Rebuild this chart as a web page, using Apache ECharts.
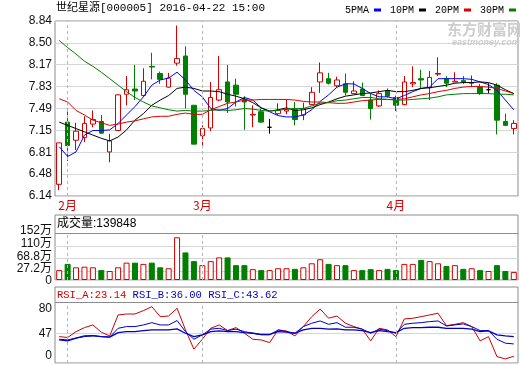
<!DOCTYPE html>
<html><head><meta charset="utf-8">
<script src="https://cdn.jsdelivr.net/npm/echarts@6.0.0/dist/echarts.min.js"></script>
<style>html,body{margin:0;padding:0;background:#fff}#c{width:520px;height:365px}</style>
</head><body><div id="c"></div>
<script>
const STOCK_NAME = '世纪星源';
const STOCK_CODE = '000005';
const TIME_STAMP = '2016-04-22 15:00';
const DATES = ['2016-01-29','2016-02-01','2016-02-02','2016-02-03','2016-02-04','2016-02-05','2016-02-15','2016-02-16','2016-02-17','2016-02-18','2016-02-19','2016-02-22','2016-02-23','2016-02-24','2016-02-25','2016-02-26','2016-02-29','2016-03-01','2016-03-02','2016-03-03','2016-03-04','2016-03-07','2016-03-08','2016-03-09','2016-03-10','2016-03-11','2016-03-14','2016-03-15','2016-03-16','2016-03-17','2016-03-18','2016-03-21','2016-03-22','2016-03-23','2016-03-24','2016-03-25','2016-03-28','2016-03-29','2016-03-30','2016-03-31','2016-04-01','2016-04-05','2016-04-06','2016-04-07','2016-04-08','2016-04-11','2016-04-12','2016-04-13','2016-04-14','2016-04-15','2016-04-18','2016-04-19','2016-04-20','2016-04-21','2016-04-22'];
const OPEN  = [6.32,7.28,7.00,7.04,7.25,7.29,6.82,7.15,7.71,7.79,7.69,8.14,8.03,7.82,8.19,8.30,7.54,7.07,7.19,7.62,7.90,7.85,7.63,7.39,7.44,7.20,7.41,7.45,7.47,7.39,7.55,7.90,7.95,7.84,7.87,7.72,7.79,7.62,7.53,7.76,7.66,7.55,7.87,7.95,7.81,8.02,7.95,7.90,7.92,7.88,7.82,7.78,7.85,7.29,7.18];
const CLOSE = [6.96,6.92,7.14,7.26,7.32,7.11,6.99,7.70,7.78,7.76,7.91,8.13,7.94,7.96,8.26,7.71,6.94,7.18,7.66,7.78,7.59,7.71,7.59,7.40,7.28,7.20,7.46,7.47,7.32,7.49,7.74,8.04,7.88,7.93,7.74,7.76,7.69,7.49,7.72,7.68,7.54,7.90,7.89,7.93,7.97,8.03,7.88,7.91,7.90,7.89,7.72,7.78,7.31,7.23,7.26];
const LOW   = [6.23,6.68,6.85,6.97,7.20,7.10,6.66,7.15,7.54,7.62,7.67,7.94,7.87,7.81,8.15,7.49,6.94,6.92,7.14,7.60,7.42,7.52,7.16,7.20,7.27,7.10,7.39,7.40,7.23,7.31,7.54,7.73,7.86,7.82,7.69,7.72,7.68,7.32,7.51,7.66,7.45,7.54,7.82,7.80,7.62,7.99,7.82,7.90,7.87,7.82,7.70,7.72,7.09,7.22,7.09];
const HIGH  = [6.96,7.49,7.27,7.37,7.46,7.39,7.10,7.71,7.99,8.16,8.11,8.35,8.06,8.04,8.77,8.45,7.54,7.23,7.90,8.30,8.16,7.95,7.68,7.54,7.49,7.33,7.57,7.63,7.59,7.58,7.82,8.20,8.04,7.98,8.03,7.91,7.89,7.72,7.77,7.80,7.69,7.99,8.14,8.09,8.07,8.28,7.99,8.05,7.99,8.00,7.87,7.88,7.88,7.41,7.31];
const MA5  = [6.90,6.75,6.82,7.08,7.15,7.15,7.16,7.26,7.39,7.52,7.67,7.85,7.93,7.96,8.05,7.93,7.77,7.67,7.49,7.46,7.49,7.59,7.66,7.62,7.50,7.44,7.38,7.36,7.36,7.39,7.47,7.60,7.70,7.82,7.87,7.87,7.80,7.72,7.67,7.67,7.64,7.69,7.75,7.80,7.82,7.95,7.95,7.95,7.95,7.94,7.90,7.86,7.77,7.62,7.47];
const MA10 = [7.28,7.23,7.18,7.13,7.08,7.03,6.99,7.05,7.16,7.31,7.41,7.54,7.62,7.69,7.80,7.82,7.80,7.76,7.76,7.75,7.71,7.68,7.64,7.58,7.50,7.45,7.47,7.50,7.46,7.47,7.50,7.55,7.59,7.64,7.68,7.70,7.72,7.73,7.75,7.77,7.75,7.75,7.77,7.80,7.81,7.83,7.85,7.88,7.89,7.89,7.90,7.89,7.85,7.78,7.72];
const MA20 = [7.64,7.59,7.46,7.39,7.31,7.27,7.23,7.25,7.28,7.30,7.33,7.36,7.37,7.37,7.40,7.42,7.40,7.40,7.47,7.52,7.57,7.59,7.62,7.62,7.63,7.63,7.63,7.63,7.62,7.60,7.59,7.59,7.58,7.57,7.57,7.59,7.61,7.62,7.63,7.63,7.63,7.64,7.67,7.70,7.72,7.75,7.77,7.80,7.82,7.83,7.83,7.82,7.80,7.76,7.72];
const MA30 = [8.54,8.43,8.33,8.22,8.14,8.05,7.95,7.85,7.75,7.66,7.59,7.53,7.50,7.47,7.45,7.46,7.45,7.45,7.46,7.47,7.46,7.47,7.49,7.48,7.46,7.45,7.46,7.48,7.49,7.49,7.53,7.57,7.58,7.61,7.62,7.64,7.66,7.66,7.64,7.63,7.62,7.62,7.63,7.64,7.65,7.67,7.70,7.71,7.72,7.72,7.72,7.72,7.71,7.71,7.70];
const VOLUME = [32,52,41,43,41,32,29,41,56,56,52,56,41,38,138,89,61,48,61,73,73,48,48,35,32,32,38,38,36,41,54,67,52,48,48,32,32,35,32,36,32,52,52,65,61,54,45,48,36,38,32,29,48,29,26];
const VOLUME_LAST = 139848;
const RSI_A = [43.7,42.7,48.9,53.1,55.9,48.3,44.4,66.4,67.4,67.4,70.9,75.1,64.6,65.3,73.4,50.7,30.5,40.9,52.4,55.9,50.0,53.1,47.2,40.9,40.2,37.4,50.7,49.6,44.4,54.2,64.6,72.6,63.0,65.3,57.7,54.2,51.5,39.2,52.4,50.7,43.6,62.2,62.9,64.6,66.4,68.2,55.2,56.6,58.3,54.2,39.2,43.6,22.7,20.3,23.14];
const RSI_B = [40.9,40.2,42.1,43.7,44.6,43.7,43.2,52.4,54.2,54.2,55.9,58.3,55.9,55.9,60.5,48.9,40.9,45.5,51.5,52.4,50.0,51.5,48.9,47.2,45.5,45.5,50.7,48.9,47.2,54.2,57.7,60.1,56.6,58.3,53.5,53.5,51.5,47.2,51.5,50.0,47.2,56.6,57.7,58.3,59.4,60.1,54.8,55.9,57.0,54.2,50.0,50.0,40.9,36.8,36.00];
const RSI_C = [40.2,39.2,42.1,44.4,44.6,43.7,43.2,47.9,48.9,48.9,50.0,50.7,50.7,50.7,51.8,47.2,43.7,45.5,48.9,49.6,48.9,48.9,47.9,47.2,46.1,46.1,48.9,48.3,47.2,50.7,52.4,52.4,51.5,51.8,50.7,50.7,50.0,47.9,50.0,48.9,47.9,52.4,53.1,53.1,53.5,53.5,52.4,52.4,52.4,51.5,48.9,49.6,45.5,44.4,43.62];
const PRICE_TICKS = [6.14,6.48,6.81,7.15,7.49,7.83,8.17,8.50,8.84];
const VOLUME_TICKS = [0,27.2,68.8,110,152];
const RSI_TICKS = [0,47,80];

const RED = '#d40000', GREEN = '#007f00', BLUE = '#0000ff', RSIBLUE = '#0000c0';
const MONO = "'Liberation Mono','Noto Sans CJK SC',monospace";
const SANS = "'Liberation Sans','Noto Sans CJK SC',sans-serif";
const CJK = "'Noto Sans CJK SC','Liberation Sans',sans-serif";
const RSI_AXIS_MIN = 16, RSI_AXIS_MAX = 95.7, VOL_AXIS_MAX = 210;

const MONTH_IDX = [];
DATES.forEach((d, i) => { if (i > 0 && d.slice(5,7) !== DATES[i-1].slice(5,7)) MONTH_IDX.push(i); });
const monthLabel = i => parseInt(DATES[i].slice(5,7), 10) + '月';

const dash = {type:[3,3], color:'#b4b4b4', width:1};
const baseGrid = {show:true, borderColor:'#8c8c8c', borderWidth:1, backgroundColor:'#fff', left:55, right:2};
const chart = echarts.init(document.getElementById('c'));
const xAxisOf = (gi) => ({
  type:'category', gridIndex:gi, data:DATES, boundaryGap:true,
  axisLine:{show:false}, axisTick:{show:false}, splitLine:{show:false},
  axisLabel: gi === 0 ? {
    show:true, interval:(idx) => MONTH_IDX.includes(idx),
    formatter:(v, idx) => MONTH_IDX.includes(idx) ? monthLabel(idx) : '',
    color:RED, fontSize:12, fontFamily:CJK, margin:3
  } : {show:false}
});
const yLabel = {color:'#111', fontSize:12, fontFamily:SANS, margin:3, hideOverlap:false, showMinLabel:true, showMaxLabel:true};
const lblStyle = {fontSize:12, fontFamily:SANS, color:'#111'};

chart.setOption({
  animation:false,
  backgroundColor:'#fff',
  title:[
    {text:`${STOCK_NAME}[${STOCK_CODE}] ${TIME_STAMP}`, left:56, top:3, padding:0,
     textStyle:{fontSize:11, fontFamily:MONO, fontWeight:'normal', color:'#000'}},
    {text:`成交量:${VOLUME_LAST}`, left:57, top:218, padding:0,
     textStyle:{fontSize:12, fontFamily:SANS, fontWeight:'normal', color:'#000'}},
    {text:`{a|RSI_A:${RSI_A[RSI_A.length-1].toFixed(2)}} {b|RSI_B:${RSI_B[RSI_B.length-1].toFixed(2)}} {c|RSI_C:${RSI_C[RSI_C.length-1].toFixed(2)}}`,
     left:57, top:290, padding:0,
     textStyle:{fontSize:10.5, fontFamily:MONO, fontWeight:'normal',
       rich:{a:{color:RED, fontSize:10.5, fontFamily:MONO}, b:{color:RSIBLUE, fontSize:10.5, fontFamily:MONO}, c:{color:RSIBLUE, fontSize:10.5, fontFamily:MONO}}}}
  ],
  legend:{
    data:['5PMA','10PM','20PM','30PM'], top:5, right:4, align:'right', icon:'rect',
    itemWidth:7, itemHeight:3, itemGap:9, padding:0,
    textStyle:{fontFamily:MONO, fontSize:10, color:'#000'}
  },
  graphic:[
    {type:'text', left:447, top:22, z:1, silent:true, style:{text:'东方财富网', fill:'#cdcdcd', font:"bold 15px 'Noto Sans CJK SC'"}},
    {type:'text', left:452, top:38, z:1, silent:true, style:{text:'eastmoney.com', fill:'#cdcdcd', font:"italic bold 9px 'Liberation Sans'"}}
  ],
  grid:[
    Object.assign({}, baseGrid, {top:21, height:175}),
    Object.assign({}, baseGrid, {top:215, height:65}),
    Object.assign({}, baseGrid, {top:287, height:76})
  ],
  xAxis:[xAxisOf(0), xAxisOf(1), xAxisOf(2)],
  yAxis:[
    {type:'value', gridIndex:0, min:PRICE_TICKS[0], max:PRICE_TICKS[PRICE_TICKS.length-1],
     axisLine:{show:false}, axisTick:{show:false, customValues:PRICE_TICKS},
     axisLabel:Object.assign({customValues:PRICE_TICKS, formatter:v => v.toFixed(2)}, yLabel),
     splitLine:{show:true, lineStyle:{color:'#d6d6d6', width:1}}},
    {type:'value', gridIndex:1, min:0, max:VOL_AXIS_MAX,
     axisLine:{show:false}, axisTick:{show:false, customValues:VOLUME_TICKS},
     axisLabel:Object.assign({customValues:VOLUME_TICKS,
       formatter:v => v === 0 ? '{z|0}' : '{u|' + v + '万}',
       rich:{u:Object.assign({padding:[0,0,5,0]}, lblStyle), z:Object.assign({padding:[2,0,0,0]}, lblStyle)}}, yLabel),
     splitLine:{show:true, lineStyle:{color:'#d6d6d6', width:1}}},
    {type:'value', gridIndex:2, min:RSI_AXIS_MIN, max:RSI_AXIS_MAX,
     axisLine:{show:false}, axisTick:{show:false, customValues:[RSI_AXIS_MIN, RSI_TICKS[1], RSI_TICKS[2]]},
     axisLabel:Object.assign({customValues:[RSI_AXIS_MIN, RSI_TICKS[1], RSI_TICKS[2]],
       formatter:v => v === RSI_AXIS_MIN ? '{up|' + RSI_TICKS[0] + '}' : (v === RSI_TICKS[2] ? '{dn|' + v + '}' : String(v)),
       rich:{up:Object.assign({padding:[0,0,14,0]}, lblStyle), dn:Object.assign({padding:[14,0,0,0]}, lblStyle)}}, yLabel),
     splitLine:{show:true, lineStyle:{color:'#d6d6d6', width:1}}}
  ],
  series:[
    {type:'candlestick', name:'K', xAxisIndex:0, yAxisIndex:0, barWidth:5,
     data:DATES.map((d,i) => [OPEN[i], CLOSE[i], LOW[i], HIGH[i]]),
     itemStyle:{color:'#fff', color0:GREEN, borderColor:RED, borderColor0:GREEN, borderColorDoji:'#000', borderWidth:1},
     markLine:{silent:true, symbol:['none','none'], label:{show:false}, lineStyle:dash,
       data:MONTH_IDX.map(i => ({xAxis:DATES[i]}))}},
    {type:'line', name:'5PMA', xAxisIndex:0, yAxisIndex:0, data:MA5, symbol:'none', lineStyle:{color:BLUE, width:1}, itemStyle:{color:BLUE}},
    {type:'line', name:'10PM', xAxisIndex:0, yAxisIndex:0, data:MA10, symbol:'none', lineStyle:{color:'#000', width:1}, itemStyle:{color:'#000'}},
    {type:'line', name:'20PM', xAxisIndex:0, yAxisIndex:0, data:MA20, symbol:'none', lineStyle:{color:'#e00000', width:1}, itemStyle:{color:'#e00000'}},
    {type:'line', name:'30PM', xAxisIndex:0, yAxisIndex:0, data:MA30, symbol:'none', lineStyle:{color:GREEN, width:1}, itemStyle:{color:GREEN}},
    {type:'bar', name:'VOL', xAxisIndex:1, yAxisIndex:1, barWidth:6,
     data:VOLUME.map((v,i) => ({value:v, itemStyle: CLOSE[i] >= OPEN[i]
       ? {color:'#fff', borderColor:RED, borderWidth:1} : {color:GREEN, borderColor:GREEN, borderWidth:1}})),
     markLine:{silent:true, symbol:['none','none'], label:{show:false}, lineStyle:dash,
       data:MONTH_IDX.map(i => [{coord:[DATES[i], 0]}, {coord:[DATES[i], VOLUME_TICKS[VOLUME_TICKS.length-1]]}])
         .concat([{yAxis:VOLUME_TICKS[VOLUME_TICKS.length-1], lineStyle:{type:'solid', color:'#8c8c8c', width:1}}])}},
    {type:'line', name:'RSI_A', xAxisIndex:2, yAxisIndex:2, data:RSI_A, symbol:'none', lineStyle:{color:'#cc0000', width:1},
     markLine:{silent:true, symbol:['none','none'], label:{show:false}, lineStyle:dash,
       data:MONTH_IDX.map(i => [{coord:[DATES[i], RSI_AXIS_MIN]}, {coord:[DATES[i], RSI_TICKS[2]]}])
         .concat([{yAxis:RSI_TICKS[2], lineStyle:{type:'solid', color:'#8c8c8c', width:1}}])}},
    {type:'line', name:'RSI_B', xAxisIndex:2, yAxisIndex:2, data:RSI_B, symbol:'none', lineStyle:{color:RSIBLUE, width:1}},
    {type:'line', name:'RSI_C', xAxisIndex:2, yAxisIndex:2, data:RSI_C, symbol:'none', lineStyle:{color:RSIBLUE, width:1.3}}
  ]
});
</script></body></html>
